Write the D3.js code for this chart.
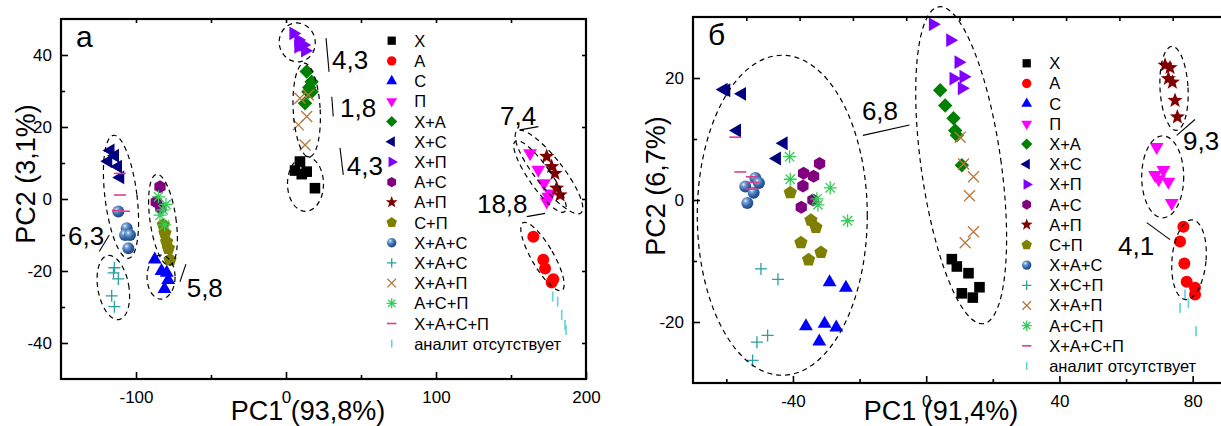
<!DOCTYPE html>
<html>
<head>
<meta charset="utf-8">
<script src="https://cdn.jsdelivr.net/npm/d3@7"></script>
<style>
  body { margin: 0; background: #fff; }
  svg { display: block; }
  text { font-family: "Liberation Sans", Arial, sans-serif; fill: #000; }
</style>
</head>
<body>
<svg id="chart" width="1221" height="426"></svg>
<script>
// ---------- series and legend text ----------
const seriesKeys = ["X","A","C","P","XA","XC","XP","AC","AP","CP","XAC","XCP","XAP","ACP","XACP","none"];
const legendA = ["Х","А","С","П","Х+А","Х+С","Х+П","А+С","А+П","С+П","Х+А+С","Х+А+С","Х+А+П","А+С+П","Х+А+С+П","аналит отсутствует"];
const legendB = ["Х","А","С","П","Х+А","Х+С","Х+П","А+С","А+П","С+П","Х+А+С","Х+С+П","Х+А+П","А+С+П","Х+А+С+П","аналит отсутствует"];

// ---------- panel а : PC1 / PC2 scores ----------
const aX    = [[9.3,10.4],[6,7.9],[13.8,7.6],[10.5,6.9],[19.3,3]];
const aA    = [[164.9,-10.5],[171.5,-16.9],[172.7,-19.3],[178.2,-22.3],[177.1,-23.2]];
const aC    = [[-87.5,-16.8],[-83,-20],[-78.5,-22.5],[-81,-25],[-79.5,-20.5]];
const aP    = [[162.7,12.7],[168.2,8.1],[172,4.4],[174.9,0.6],[176.5,1.5],[173.8,-0.7]];
const aXA   = [[13.8,35.4],[17.1,32.6],[15.5,31],[14.9,29.8],[17.1,29.8],[12.7,26.6]];
const aXC   = [[-117,13.5],[-114,12],[-118.5,10.5],[-112,9],[-110.5,6]];
const aXP   = [[4.9,46],[8.2,44.2],[11.5,42.8],[12.7,41.2],[8.2,42.3]];
const aAC   = [[-84,3.4],[-86.5,-0.8],[-83.5,-2.5]];
const aAP   = [[173.8,11.8],[177.1,9],[179.3,7.1],[180.4,3],[182.7,1.1]];
const aCP   = [[-81.8,-7.2],[-80.7,-9.5],[-79.6,-11.9],[-78.4,-13.7],[-77.3,-16.9]];
const aXAC  = [[-111.8,-3.5],[-106.2,-8.1],[-107.3,-10],[-104,-10],[-105.1,-13.7]];
const aXCP  = [[-114.4,-19.1],[-115,-20.5],[-111.8,-22.2],[-116.2,-26.9],[-114.4,-29.9]];
const aXAP  = [[9.3,28],[14.9,28.9],[13.8,22.9],[8.2,20.6],[12.7,15]];
const aACP  = [[-85,0.6],[-82,-3],[-84,-4.5],[-81,-7.2],[-80,-1.5]];
const aXACP = [[-110.7,7.1],[-110.7,1.1],[-112,-3.2],[-108,-3.4]];
const aNone = [[177.8,-27.1],[181.1,-28.5],[183.8,-32.2],[186,-35],[186.7,-36.4]];

// ---------- panel б : PC1 / PC2 scores ----------
const bX    = [[7.7,-9.7],[9.2,-10.9],[12.7,-12],[10.7,-15.3],[14,-16],[16,-14.3]];
const bA    = [[77.2,-4.4],[76.2,-6.8],[77.5,-10.4],[78.2,-13.4],[80.7,-14.4],[80.7,-15.5]];
const bC    = [[-29,-13.5],[-24.1,-14.4],[-36.1,-20.7],[-30.5,-20.3],[-27,-20.9],[-32.1,-23.2]];
const bP    = [[69.2,8.7],[68.7,4.1],[71.2,4.9],[72.7,3],[69.8,3.4],[73.7,-0.5]];
const bXA   = [[4.2,18],[5.7,15.5],[8.2,13.4],[8.7,11.4],[9.2,10.6],[10.7,5.7]];
const bXC   = [[-60.8,18.1],[-60,18],[-55.3,17.4],[-56.8,11.4],[-42.8,9.3],[-44.8,6.8]];
const bXP   = [[2,28.8],[7.2,26.2],[9.7,22.6],[8.2,19.9],[11.2,20.2],[10.7,18.3]];
const bAC   = [[-32,6],[-36.8,4.4],[-33.8,3.9],[-37,2.3],[-34,0],[-37.5,-1.2]];
const bAP   = [[71.7,22.1],[73.2,21.7],[72.7,19.9],[73.9,19.3],[74.7,16.3],[75.4,13.6]];
const bCP   = [[-40.8,1.2],[-34.6,-3.3],[-33.1,-4.5],[-37.6,-7],[-31.6,-8.6],[-35.3,-9.8]];
const bXAC  = [[-51.3,3.6],[-50.2,2.8],[-54.3,2.2],[-51.8,1.2],[-53.7,-0.5]];
const bXCP  = [[-49.6,-11.3],[-44.5,-13],[-47.6,-22.2],[-50.8,-23.3],[-52.1,-26.3]];
const bXAP  = [[10.2,10.3],[11.2,5.9],[14.2,3.8],[13,0.7],[14.2,-5.2],[11.7,-7]];
const bACP  = [[-41,7.1],[-40.8,3.4],[-28.8,2],[-32.8,0.2],[-32.5,-0.8],[-23.6,-3.4]];
const bXACP = [[-57.3,10.3],[-55.8,4.6],[-52.3,3.8],[-52,2.9],[-52.5,1.8]];
const bNone = [[76.2,-17.7],[77.7,-15.5],[78.7,-16.9],[81,-21.5]];

// ---------- axis ticks ----------
const xTicksA = [-100, 0, 100, 200], xMinorA = [-50, 50, 150];
const yTicksA = [-40, -20, 0, 20, 40], yMinorA = [-30, -10, 10, 30];
const topTicksA = [-100, -50, 0, 50, 100, 150];
const xTicksB = [-40, 0, 40, 80], xMinorB = [-60, -20, 20, 60];
const yTicksB = [-20, 0, 20], yMinorB = [-10, 10];
const topTicksB = [-54, -38, -22, -6, 10, 26, 42, 58, 74];

// ---------- cluster outlines (centre in data units, semi-axes in px, tilt in deg) ----------
const ellipsesA = [
  {cx: 7.5,    cy: 43.5,  rx: 18, ry: 19.5, rot: -10},
  {cx: 13.8,   cy: 24.7,  rx: 13.5, ry: 47, rot: -3},
  {cx: 13,     cy: 4.2,   rx: 18, ry: 27.5, rot: 0},
  {cx: -110,   cy: 0.6,   rx: 16, ry: 62, rot: -7},
  {cx: -115.1, cy: -24.6, rx: 15.5, ry: 32.5, rot: -10},
  {cx: -82,    cy: -5.8,  rx: 13, ry: 46, rot: -8},
  {cx: -83.3,  cy: -21.7, rx: 14, ry: 22, rot: 0},
  {cx: 169.3,  cy: 6.25,  rx: 11, ry: 43, rot: -35},
  {cx: 175.3,  cy: 7.5,   rx: 14, ry: 52, rot: -38},
  {cx: 171,    cy: -16,   rx: 11, ry: 39, rot: -30}
];
const ellipsesB = [
  {cx: -43.2, cy: -2.5, rx: 85, ry: 160, rot: 0},
  {cx: 10.5,  cy: 5.7,  rx: 40, ry: 160, rot: -8},
  {cx: 74.4,  cy: 18.3, rx: 14, ry: 42, rot: -3},
  {cx: 71,    cy: 3.8,  rx: 21, ry: 41, rot: 0},
  {cx: 78.9,  cy: -9.8, rx: 17, ry: 40, rot: 5}
];

// ---------- separation labels with leader lines (data units) ----------
const notesA = [
  {t: "4,3",  x: 30.7,   y: 36.1,  l: [26.7, 44.7, 28.7, 35.3]},
  {t: "1,8",  x: 36,     y: 22.8,  l: [30.5, 28.4, 31.5, 22.9]},
  {t: "4,3",  x: 40.5,   y: 6.7,   l: [36, 14.2, 38.2, 6.7]},
  {t: "7,4",  x: 142.7,  y: 20.6,  l: [156, 19.2, 168.2, 20.1]},
  {t: "18,8", x: 127.3,  y: -3.9,  l: [160.5, -4.9, 172.7, -4]},
  {t: "6,3",  x: -145.3, y: -12.8, l: [-124.5, -14.6, -117.8, -10]},
  {t: "5,8",  x: -66.2,  y: -27.2, l: [-70.7, -23, -66.7, -18.1]}
];
const notesB = [
  {t: "6,8", x: -19.3, y: 13.1, l: [-19, 10.6, -5, 12.3]},
  {t: "9,3", x: 77.1,  y: 8.2,  l: [75.2, 10.6, 80.7, 13.2]},
  {t: "4,1", x: 57.6,  y: -9,   l: [66.2, -3.7, 73.2, -6.5]}
];

// ---------- marker styles ----------
const styles = {
  X:    {shape: "square",  color: "#000000"},
  A:    {shape: "circle",  color: "#ff0000"},
  C:    {shape: "triUp",   color: "#0000ff"},
  P:    {shape: "triDown", color: "#ff00ff"},
  XA:   {shape: "diamond", color: "#008000"},
  XC:   {shape: "triLeft", color: "#000080"},
  XP:   {shape: "triRight",color: "#8000ff"},
  AC:   {shape: "hexagon", color: "#800080"},
  AP:   {shape: "star",    color: "#800000"},
  CP:   {shape: "pentagon",color: "#808000"},
  XAC:  {shape: "sphere",  color: "#2f62a8"},
  XCP:  {shape: "plus",    color: "#2aa0a0"},
  XAP:  {shape: "cross",   color: "#b8783c"},
  ACP:  {shape: "asterisk",color: "#33cc55"},
  XACP: {shape: "hline",   color: "#dd3f8f"},
  none: {shape: "vline",   color: "#5fd3da"}
};

function poly(n, r, startDeg) {
  const pts = d3.range(n).map(i => {
    const a = (startDeg + i * 360 / n) * Math.PI / 180;
    return [r * Math.cos(a), r * Math.sin(a)];
  });
  return "M" + pts.map(p => p[0].toFixed(2) + "," + p[1].toFixed(2)).join("L") + "Z";
}
function starPath(R) {
  const pts = d3.range(10).map(i => {
    const a = (-90 + i * 36) * Math.PI / 180, r = i % 2 ? R * 0.42 : R;
    return [r * Math.cos(a), r * Math.sin(a)];
  });
  return "M" + pts.map(p => p[0].toFixed(2) + "," + p[1].toFixed(2)).join("L") + "Z";
}
function circlePath(r) {
  return `M${-r},0A${r},${r} 0 1,0 ${r},0A${r},${r} 0 1,0 ${-r},0Z`;
}
// returns {d, filled}
function markerPath(shape, s) {
  switch (shape) {
    case "square":   return {d: `M${-5.3*s},${-5.3*s}H${5.3*s}V${5.3*s}H${-5.3*s}Z`, filled: true};
    case "circle":   return {d: circlePath(6*s), filled: true};
    case "sphere":   return {d: circlePath(6*s), filled: true};
    case "triUp":    return {d: poly(3, 8*s, -90), filled: true};
    case "triDown":  return {d: poly(3, 8*s, 90), filled: true};
    case "triLeft":  return {d: poly(3, 8*s, 180), filled: true};
    case "triRight": return {d: poly(3, 8*s, 0), filled: true};
    case "diamond":  return {d: poly(4, 7.2*s, -90), filled: true};
    case "hexagon":  return {d: poly(6, 6.5*s, -90), filled: true};
    case "pentagon": return {d: poly(5, 7*s, -90), filled: true};
    case "star":     return {d: starPath(8*s), filled: true};
    case "plus": { const r = 6*s; return {d: `M${-r},0H${r}M0,${-r}V${r}`, filled: false}; }
    case "cross": { const r = 5.5*s; return {d: `M${-r},${-r}L${r},${r}M${-r},${r}L${r},${-r}`, filled: false}; }
    case "asterisk": { const r = 6.5*s, q = r * 0.72;
      return {d: `M${-r},0H${r}M0,${-r}V${r}M${-q},${-q}L${q},${q}M${-q},${q}L${q},${-q}`, filled: false}; }
    case "hline": { const r = 6*s; return {d: `M${-r},0H${r}`, filled: false}; }
    case "vline": { const r = 5*s; return {d: `M0,${-r}V${r}`, filled: false}; }
  }
}

const svg = d3.select("#chart");
const defs = svg.append("defs");
const grad = defs.append("radialGradient").attr("id", "sphereFill")
  .attr("cx", "35%").attr("cy", "32%").attr("r", "70%");
grad.append("stop").attr("offset", "0%").attr("stop-color", "#f2f6fc");
grad.append("stop").attr("offset", "22%").attr("stop-color", "#7ea6d4");
grad.append("stop").attr("offset", "60%").attr("stop-color", "#3568aa");
grad.append("stop").attr("offset", "100%").attr("stop-color", "#1d4680");

function drawMarker(g, key, px, py, s) {
  const st = styles[key];
  const m = markerPath(st.shape, s);
  const p = g.append("path").attr("d", m.d).attr("transform", `translate(${px},${py})`);
  if (m.filled) {
    p.attr("fill", st.shape === "sphere" ? "url(#sphereFill)" : st.color).attr("stroke", "none");
  } else {
    p.attr("fill", "none").attr("stroke", st.color)
     .attr("stroke-width", (st.shape === "hline" || st.shape === "vline") ? 1.6 : 1.3);
  }
}

function drawPanel(p) {
  const g = svg.append("g");
  const x = d3.scaleLinear().domain(p.xDomain).range([p.left, p.right]);
  const y = d3.scaleLinear().domain(p.yDomain).range([p.bottom, p.top]);

  const styleAxis = sel => {
    sel.select(".domain").remove();
    sel.selectAll(".tick line").attr("stroke", "#000").attr("stroke-width", 1.6);
    sel.selectAll(".tick text").attr("font-size", 17)
      .attr("font-family", '"Liberation Sans", Arial, sans-serif').attr("fill", "#000");
  };
  const fmt = d => String(d);

  // bottom axis
  g.append("g").attr("transform", `translate(0,${p.bottom})`)
    .call(d3.axisBottom(x).tickValues(p.xTicks).tickSize(-7).tickPadding(12).tickFormat(fmt)).call(styleAxis);
  g.append("g").attr("transform", `translate(0,${p.bottom})`)
    .call(d3.axisBottom(x).tickValues(p.xMinor).tickSize(-4).tickFormat("")).call(styleAxis);
  // left axis
  g.append("g").attr("transform", `translate(${p.left},0)`)
    .call(d3.axisLeft(y).tickValues(p.yTicks).tickSize(-7).tickPadding(9).tickFormat(fmt)).call(styleAxis);
  g.append("g").attr("transform", `translate(${p.left},0)`)
    .call(d3.axisLeft(y).tickValues(p.yMinor).tickSize(-4).tickFormat("")).call(styleAxis);
  // top and right mirror ticks
  g.append("g").attr("transform", `translate(0,${p.top})`)
    .call(d3.axisTop(x).tickValues(p.topTicks).tickSize(-4).tickFormat("")).call(styleAxis);
  if (p.rightTicks) {
    g.append("g").attr("transform", `translate(${p.right},0)`)
      .call(d3.axisRight(y).tickValues(p.yTicks).tickSize(-4).tickFormat("")).call(styleAxis);
  }

  // frame
  g.append("rect").attr("x", p.left).attr("y", p.top)
    .attr("width", p.right - p.left).attr("height", p.bottom - p.top)
    .attr("fill", "none").attr("stroke", "#000").attr("stroke-width", 2.2);

  // markers
  const mg = g.append("g");
  seriesKeys.forEach((k, i) => {
    p.series[i].forEach(d => drawMarker(mg, k, x(d[0]), y(d[1]), 1));
  });

  // dashed cluster outlines
  p.ellipses.forEach(e => {
    g.append("ellipse")
      .attr("transform", `translate(${x(e.cx)},${y(e.cy)}) rotate(${e.rot})`)
      .attr("rx", e.rx).attr("ry", e.ry)
      .attr("fill", "none").attr("stroke", "#000").attr("stroke-width", 1.2)
      .attr("stroke-dasharray", "5,4");
  });

  // separation labels
  p.notes.forEach(n => {
    g.append("line")
      .attr("x1", x(n.l[0])).attr("y1", y(n.l[1])).attr("x2", x(n.l[2])).attr("y2", y(n.l[3]))
      .attr("stroke", "#000").attr("stroke-width", 1.1);
    g.append("text").attr("x", x(n.x)).attr("y", y(n.y)).attr("font-size", 26).text(n.t);
  });

  // legend
  const lg = g.append("g");
  p.legend.forEach((t, i) => {
    const cy = p.legY + i * p.legStep;
    drawMarker(lg, seriesKeys[i], p.legX, cy, 0.78);
    lg.append("text").attr("x", p.legX + 22.5).attr("y", cy + 6).attr("font-size", 16.5).text(t);
  });

  // panel letter and axis titles
  g.append("text").attr("x", p.left + 15).attr("y", p.top + 28).attr("font-size", 30).text(p.letter);
  g.append("text").attr("x", p.xTitleX).attr("y", 420).attr("text-anchor", "middle")
    .attr("font-size", 27).text(p.xTitle);
  g.append("text").attr("transform", `translate(${p.yTitleX},${p.yTitleY}) rotate(-90)`)
    .attr("text-anchor", "middle").attr("font-size", 27).text(p.yTitle);
}

drawPanel({
  left: 61, right: 586, top: 19, bottom: 379,
  xDomain: [-150, 200], yDomain: [-50, 50],
  xTicks: xTicksA, xMinor: xMinorA, yTicks: yTicksA, yMinor: yMinorA, topTicks: topTicksA, rightTicks: true,
  series: [aX, aA, aC, aP, aXA, aXC, aXP, aAC, aAP, aCP, aXAC, aXCP, aXAP, aACP, aXACP, aNone],
  ellipses: ellipsesA, notes: notesA,
  legend: legendA, legX: 391.7, legY: 40.7, legStep: 20.2,
  letter: "а", xTitle: "PC1 (93,8%)", xTitleX: 308, yTitle: "PC2 (3,1%)", yTitleX: 35, yTitleY: 174
});

drawPanel({
  left: 693, right: 1226, top: 17, bottom: 383,
  xDomain: [-70, 90], yDomain: [-30, 30],
  xTicks: xTicksB, xMinor: xMinorB, yTicks: yTicksB, yMinor: yMinorB, topTicks: topTicksB, rightTicks: false,
  series: [bX, bA, bC, bP, bXA, bXC, bXP, bAC, bAP, bCP, bXAC, bXCP, bXAP, bACP, bXACP, bNone],
  ellipses: ellipsesB, notes: notesB,
  legend: legendB, legX: 1026.7, legY: 63.3, legStep: 20.18,
  letter: "б", xTitle: "PC1 (91,4%)", xTitleX: 941, yTitle: "PC2 (6,7%)", yTitleX: 665, yTitleY: 186
});
</script>
</body>
</html>
